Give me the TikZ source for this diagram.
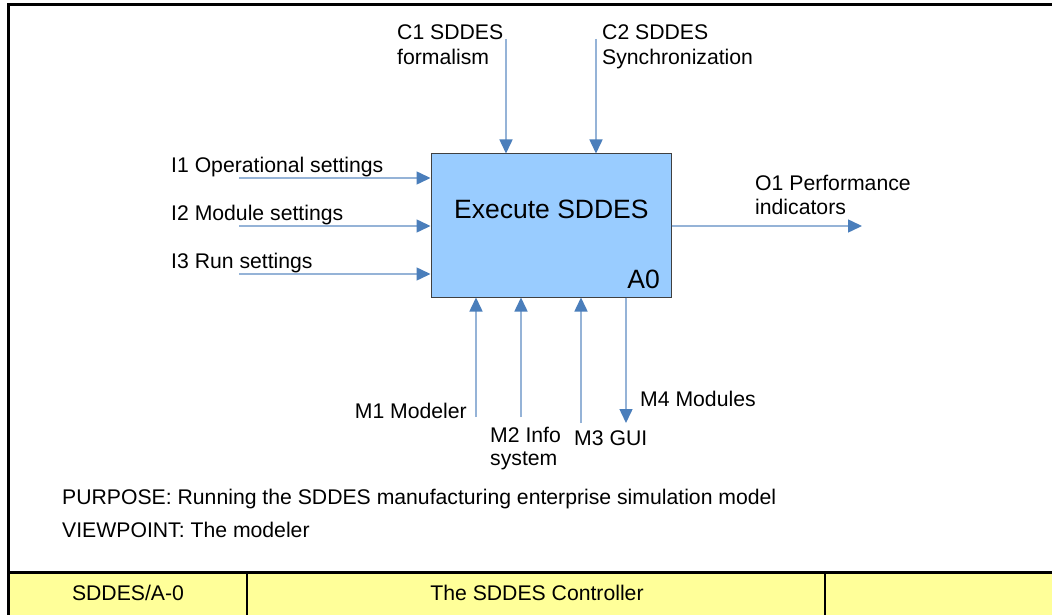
\documentclass[tikz,border=0pt]{standalone}
\usepackage{fontspec}
\setmainfont{Liberation Sans}
\usetikzlibrary{arrows.meta}
\definecolor{linec}{HTML}{95B3D7}
\definecolor{tipc}{HTML}{4A7EBB}
\definecolor{boxfill}{HTML}{99CCFF}
\definecolor{boxline}{HTML}{404040}
\definecolor{barfill}{HTML}{FFFF99}
\begin{document}
\begin{tikzpicture}[x=1pt,y=-1pt,
  lbl/.style={inner sep=0pt, anchor=base west, font=\fontsize{21.2}{24}\selectfont},
  lblr/.style={lbl, anchor=base east},
  lblc/.style={lbl, anchor=base},
  big/.style={inner sep=0pt, font=\fontsize{26.5}{30}\selectfont},
  flow/.style={draw=linec, line width=1.5pt, -{Triangle[length=14pt,width=13pt,color=tipc]}},
  frameline/.style={draw=black, line width=3pt}]
\useasboundingbox (0,0) rectangle (1052,615);
\clip (0,0) rectangle (1052,615);
% frame
\fill[white] (0,0) rectangle (1052,615);
\fill[barfill] (8.5,572) rectangle (1060,620);
\draw[frameline] (1060,4.5) -- (8.5,4.5) -- (8.5,620);
\draw[frameline] (8.5,572) -- (1060,572);
\draw[line width=2pt] (247,572) -- (247,620);
\draw[line width=2pt] (825,572) -- (825,620);
\node[lblc] (t1) at (128,600) {SDDES/A-0};
\node[lblc] (t2) at (537,600) {The SDDES Controller};
% box
\node[draw=boxline, fill=boxfill, line width=1pt, minimum width=240pt, minimum height=143pt, inner sep=0pt] (box) at (551,225.5) {};
\node[big, anchor=base west] (title) at (454,218) {Execute SDDES};
\node[big, anchor=base east] (num) at (660,288) {A0};
% coordinates
\coordinate (c1) at (506,39);
\coordinate (c2) at (596,39);
\coordinate (i1) at (239,178);
\coordinate (i2) at (239,226);
\coordinate (i3) at (239,274);
\coordinate (o1) at (862,226);
\coordinate (m1) at (476,417);
\coordinate (m2) at (521,417);
\coordinate (m3) at (581,423);
\coordinate (m4) at (626,423);
% connectors
\draw[flow] (c1) -- (c1 |- box.north);
\draw[flow] (c2) -- (c2 |- box.north);
\draw[flow] (i1) -- (i1 -| box.west);
\draw[flow] (i2) -- (i2 -| box.west);
\draw[flow] (i3) -- (i3 -| box.west);
\draw[flow] (o1 -| box.east) -- (o1);
\draw[flow] (m1) -- (m1 |- box.south);
\draw[flow] (m2) -- (m2 |- box.south);
\draw[flow] (m3) -- (m3 |- box.south);
\draw[flow] (m4 |- box.south) -- (m4);
% labels
\node[lbl] (lc1a) at (397,40) {C1 SDDES};
\node[lbl] (lc1b) at (397,65) {formalism};
\node[lbl] (lc2a) at (602,40) {C2 SDDES};
\node[lbl] (lc2b) at (602,65) {Synchronization};
\node[lbl] (li1) at (171,172) {I1 Operational settings};
\node[lbl] (li2) at (171,220) {I2 Module settings};
\node[lbl] (li3) at (171,268) {I3 Run settings};
\node[lbl] (lo1a) at (755,190) {O1 Performance};
\node[lbl] (lo1b) at (755,214) {indicators};
\node[lblr] (lm1) at (467,418) {M1 Modeler};
\node[lbl] (lm2a) at (490,442) {M2 Info};
\node[lbl] (lm2b) at (490,465) {system};
\node[lbl] (lm3) at (574,445) {M3 GUI};
\node[lbl] (lm4) at (640,406) {M4 Modules};
\node[lbl] (pur) at (62,504) {PURPOSE: Running the SDDES manufacturing enterprise simulation model};
\node[lbl] (vp) at (62,537) {VIEWPOINT: The modeler};
\end{tikzpicture}
\end{document}
